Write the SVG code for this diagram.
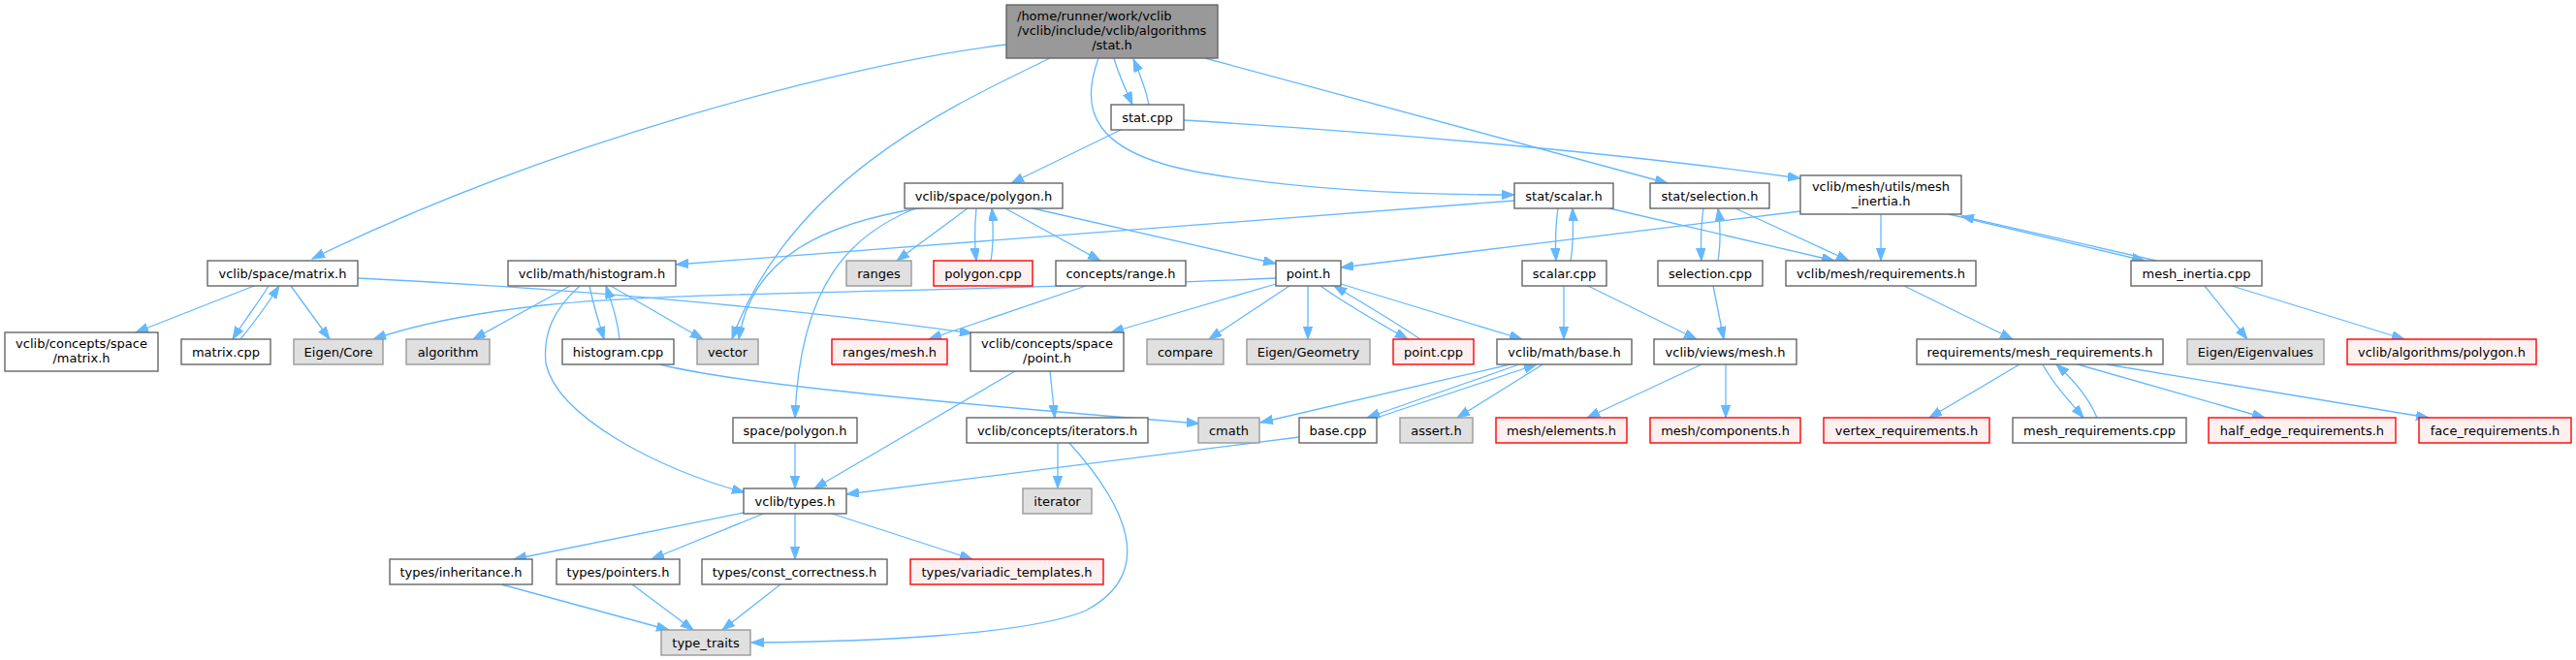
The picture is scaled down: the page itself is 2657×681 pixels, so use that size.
<svg xmlns="http://www.w3.org/2000/svg" width="2657" height="681" viewBox="0 0 2657 681">
<style>
rect{fill:#ffffff;stroke:#666666;stroke-width:1.4}
.g rect{fill:#e0e0e0;stroke:#999999}
.r rect{fill:#fff0f0;stroke:#ff0000}
.root rect{fill:#999999;stroke:#666666}
text{font-family:"DejaVu Sans","Liberation Sans",sans-serif;font-size:13px;fill:#000000;text-anchor:middle}
#edges path{fill:none;stroke:#63b8ff;stroke-width:1.3;marker-end:url(#a)}
</style>
<defs>
<marker id="a" markerUnits="userSpaceOnUse" markerWidth="14" markerHeight="10" refX="13" refY="4.65" orient="auto"><path d="M0,0 L13,4.65 L0,9.3 z" fill="#63b8ff" stroke="#63b8ff" stroke-width="1"/></marker>
</defs>
<rect x="0" y="0" width="2657" height="681" style="fill:#ffffff;stroke:none"/>
<g id="edges">
<path d="M1038,46 C870,66 560,150 322,267"/>
<path d="M1083,60 C980,110 815,185 755,350"/>
<path d="M1149,60 C1153,75 1160,90 1168,108"/>
<path d="M1185,108 C1182,92 1176,77 1169,61"/>
<path d="M1133,60 C1115,110 1120,160 1250,180 C1350,196 1450,201 1562,201"/>
<path d="M1243,60 L1720,189"/>
<path d="M1158,133 L1043,189"/>
<path d="M1221,124 C1400,135 1650,155 1857,184"/>
<path d="M1757,215 C1754,235 1754,250 1755,269"/>
<path d="M1772,269 C1775,250 1775,235 1772,215"/>
<path d="M1790,215 L1907,269"/>
<path d="M1767,295 L1778,350"/>
<path d="M1562,207 L697,273"/>
<path d="M1607,215 C1604,235 1604,250 1605,269"/>
<path d="M1620,269 C1623,250 1623,235 1622,215"/>
<path d="M1660,215 L1892,269"/>
<path d="M1857,218 L1383,276"/>
<path d="M1940,221 L1940,269"/>
<path d="M2010,221 L2212,269"/>
<path d="M2224,269 L2023,223"/>
<path d="M2274,295 L2318,350"/>
<path d="M2302,295 L2480,350"/>
<path d="M1964,295 L2076,350"/>
<path d="M2083,376 L1990,431"/>
<path d="M2107,376 C2117,395 2133,412 2149,431"/>
<path d="M2163,431 C2155,412 2140,393 2121,376"/>
<path d="M2143,376 L2336,431"/>
<path d="M2173,376 L2505,431"/>
<path d="M998,215 L925,269"/>
<path d="M1007,215 C1005,235 1005,250 1007,269"/>
<path d="M1022,269 C1025,250 1025,235 1023,215"/>
<path d="M1037,215 L1135,269"/>
<path d="M1065,215 L1316,272"/>
<path d="M953,214 C850,230 775,265 762,350"/>
<path d="M947,214 C880,240 825,290 820,431"/>
<path d="M630,295 L725,350"/>
<path d="M588,295 L488,350"/>
<path d="M598,295 C570,320 560,345 563,375 C575,430 680,485 768,508"/>
<path d="M608,295 C612,315 617,330 623,350"/>
<path d="M639,350 C637,330 631,313 625,295"/>
<path d="M677,375 C740,392 900,410 1237,437"/>
<path d="M262,295 L140,343"/>
<path d="M277,295 C265,315 252,330 240,350"/>
<path d="M248,350 C262,333 275,315 288,295"/>
<path d="M300,295 L340,350"/>
<path d="M369,287 C600,298 850,322 1003,344"/>
<path d="M1316,287 C1000,302 700,300 560,315 C470,325 420,338 385,350"/>
<path d="M1316,293 L1146,343"/>
<path d="M1330,295 L1247,350"/>
<path d="M1349,295 L1349,350"/>
<path d="M1362,295 C1390,315 1420,332 1452,350"/>
<path d="M1465,350 C1435,330 1405,312 1376,295"/>
<path d="M1383,293 L1570,350"/>
<path d="M1120,295 L958,350"/>
<path d="M1047,383 L840,504"/>
<path d="M1083,383 L1088,431"/>
<path d="M1091,456 L1091,504"/>
<path d="M1102,456 C1160,520 1195,590 1120,630 C1060,655 900,662 775,663"/>
<path d="M1562,375 L1300,436"/>
<path d="M1567,376 L1410,431"/>
<path d="M1420,431 L1585,376"/>
<path d="M1593,375 L1503,431"/>
<path d="M1340,451 L873,510"/>
<path d="M1613,295 L1613,350"/>
<path d="M1638,295 L1750,350"/>
<path d="M1755,376 L1637,431"/>
<path d="M1780,376 L1780,431"/>
<path d="M820,456 L820,504"/>
<path d="M767,529 L530,577"/>
<path d="M790,529 L672,577"/>
<path d="M820,529 L820,577"/>
<path d="M855,529 L1003,577"/>
<path d="M517,603 L690,650"/>
<path d="M652,603 L715,650"/>
<path d="M805,603 L745,650"/>
</g>
<g id="n_stat_h" class="root"><rect x="1038" y="5" width="218" height="55"/><text x="1049" y="20.5" style="text-anchor:start">/home/runner/work/vclib</text><text x="1147" y="36">/vclib/include/vclib/algorithms</text><text x="1147" y="51">/stat.h</text></g>
<g id="n_stat_cpp"><rect x="1146" y="108" width="75" height="26"/><text x="1183.5" y="125.5">stat.cpp</text></g>
<g id="n_mesh_inertia_h"><rect x="1857" y="181" width="166" height="40"/><text x="1940" y="197">vclib/mesh/utils/mesh</text><text x="1940" y="212">_inertia.h</text></g>
<g id="n_space_polygon_h"><rect x="933" y="189" width="163" height="26"/><text x="1014.5" y="206.5">vclib/space/polygon.h</text></g>
<g id="n_stat_scalar_h"><rect x="1562" y="189" width="102" height="26"/><text x="1613" y="206.5">stat/scalar.h</text></g>
<g id="n_stat_selection_h"><rect x="1702" y="189" width="123" height="26"/><text x="1763.5" y="206.5">stat/selection.h</text></g>
<g id="n_matrix_h"><rect x="214" y="269" width="155" height="26"/><text x="291.5" y="286.5">vclib/space/matrix.h</text></g>
<g id="n_histogram_h"><rect x="524" y="269" width="173" height="26"/><text x="610.5" y="286.5">vclib/math/histogram.h</text></g>
<g id="n_ranges" class="g"><rect x="873" y="269" width="67" height="26"/><text x="906.5" y="286.5">ranges</text></g>
<g id="n_polygon_cpp" class="r"><rect x="963" y="269" width="102" height="26"/><text x="1014" y="286.5">polygon.cpp</text></g>
<g id="n_concepts_range_h"><rect x="1089" y="269" width="134" height="26"/><text x="1156" y="286.5">concepts/range.h</text></g>
<g id="n_point_h"><rect x="1316" y="269" width="67" height="26"/><text x="1349.5" y="286.5">point.h</text></g>
<g id="n_scalar_cpp"><rect x="1570" y="269" width="87" height="26"/><text x="1613.5" y="286.5">scalar.cpp</text></g>
<g id="n_selection_cpp"><rect x="1710" y="269" width="108" height="26"/><text x="1764" y="286.5">selection.cpp</text></g>
<g id="n_requirements_h"><rect x="1842" y="269" width="196" height="26"/><text x="1940" y="286.5">vclib/mesh/requirements.h</text></g>
<g id="n_mesh_inertia_cpp"><rect x="2198" y="269" width="135" height="26"/><text x="2265.5" y="286.5">mesh_inertia.cpp</text></g>
<g id="n_concepts_space_matrix_h"><rect x="5" y="343" width="158" height="40"/><text x="84" y="359">vclib/concepts/space</text><text x="84" y="374">/matrix.h</text></g>
<g id="n_matrix_cpp"><rect x="187" y="350" width="92" height="26"/><text x="233" y="367.5">matrix.cpp</text></g>
<g id="n_eigen_core" class="g"><rect x="303" y="350" width="92" height="26"/><text x="349" y="367.5">Eigen/Core</text></g>
<g id="n_algorithm" class="g"><rect x="419" y="350" width="86" height="26"/><text x="462" y="367.5">algorithm</text></g>
<g id="n_histogram_cpp"><rect x="580" y="350" width="115" height="26"/><text x="637.5" y="367.5">histogram.cpp</text></g>
<g id="n_vector" class="g"><rect x="719" y="350" width="63" height="26"/><text x="750.5" y="367.5">vector</text></g>
<g id="n_ranges_mesh_h" class="r"><rect x="858" y="350" width="119" height="26"/><text x="917.5" y="367.5">ranges/mesh.h</text></g>
<g id="n_concepts_space_point_h"><rect x="1001" y="343" width="158" height="40"/><text x="1080" y="359">vclib/concepts/space</text><text x="1080" y="374">/point.h</text></g>
<g id="n_compare" class="g"><rect x="1183" y="350" width="79" height="26"/><text x="1222.5" y="367.5">compare</text></g>
<g id="n_eigen_geometry" class="g"><rect x="1286" y="350" width="127" height="26"/><text x="1349.5" y="367.5">Eigen/Geometry</text></g>
<g id="n_point_cpp" class="r"><rect x="1437" y="350" width="83" height="26"/><text x="1478.5" y="367.5">point.cpp</text></g>
<g id="n_math_base_h"><rect x="1544" y="350" width="139" height="26"/><text x="1613.5" y="367.5">vclib/math/base.h</text></g>
<g id="n_views_mesh_h"><rect x="1706" y="350" width="147" height="26"/><text x="1779.5" y="367.5">vclib/views/mesh.h</text></g>
<g id="n_mesh_requirements_h"><rect x="1977" y="350" width="254" height="26"/><text x="2104" y="367.5">requirements/mesh_requirements.h</text></g>
<g id="n_eigen_eigenvalues" class="g"><rect x="2256" y="350" width="141" height="26"/><text x="2326.5" y="367.5">Eigen/Eigenvalues</text></g>
<g id="n_algorithms_polygon_h" class="r"><rect x="2421" y="350" width="195" height="26"/><text x="2518.5" y="367.5">vclib/algorithms/polygon.h</text></g>
<g id="n_space_polygon_h2"><rect x="756" y="431" width="128" height="26"/><text x="820" y="448.5">space/polygon.h</text></g>
<g id="n_iterators_h"><rect x="997" y="431" width="187" height="26"/><text x="1090.5" y="448.5">vclib/concepts/iterators.h</text></g>
<g id="n_cmath" class="g"><rect x="1236" y="431" width="63" height="26"/><text x="1267.5" y="448.5">cmath</text></g>
<g id="n_base_cpp"><rect x="1340" y="431" width="80" height="26"/><text x="1380" y="448.5">base.cpp</text></g>
<g id="n_assert_h" class="g"><rect x="1444" y="431" width="75" height="26"/><text x="1481.5" y="448.5">assert.h</text></g>
<g id="n_mesh_elements_h" class="r"><rect x="1543" y="431" width="135" height="26"/><text x="1610.5" y="448.5">mesh/elements.h</text></g>
<g id="n_mesh_components_h" class="r"><rect x="1702" y="431" width="155" height="26"/><text x="1779.5" y="448.5">mesh/components.h</text></g>
<g id="n_vertex_requirements_h" class="r"><rect x="1881" y="431" width="171" height="26"/><text x="1966.5" y="448.5">vertex_requirements.h</text></g>
<g id="n_mesh_requirements_cpp"><rect x="2076" y="431" width="179" height="26"/><text x="2165.5" y="448.5">mesh_requirements.cpp</text></g>
<g id="n_half_edge_requirements_h" class="r"><rect x="2278" y="431" width="193" height="26"/><text x="2374.5" y="448.5">half_edge_requirements.h</text></g>
<g id="n_face_requirements_h" class="r"><rect x="2495" y="431" width="157" height="26"/><text x="2573.5" y="448.5">face_requirements.h</text></g>
<g id="n_types_h"><rect x="767" y="504" width="106" height="26"/><text x="820" y="521.5">vclib/types.h</text></g>
<g id="n_iterator" class="g"><rect x="1055" y="504" width="71" height="26"/><text x="1090.5" y="521.5">iterator</text></g>
<g id="n_inheritance_h"><rect x="402" y="577" width="147" height="26"/><text x="475.5" y="594.5">types/inheritance.h</text></g>
<g id="n_pointers_h"><rect x="574" y="577" width="127" height="26"/><text x="637.5" y="594.5">types/pointers.h</text></g>
<g id="n_const_correctness_h"><rect x="724" y="577" width="191" height="26"/><text x="819.5" y="594.5">types/const_correctness.h</text></g>
<g id="n_variadic_templates_h" class="r"><rect x="939" y="577" width="199" height="26"/><text x="1038.5" y="594.5">types/variadic_templates.h</text></g>
<g id="n_type_traits" class="g"><rect x="682" y="650" width="92" height="26"/><text x="728" y="667.5">type_traits</text></g>
</svg>
